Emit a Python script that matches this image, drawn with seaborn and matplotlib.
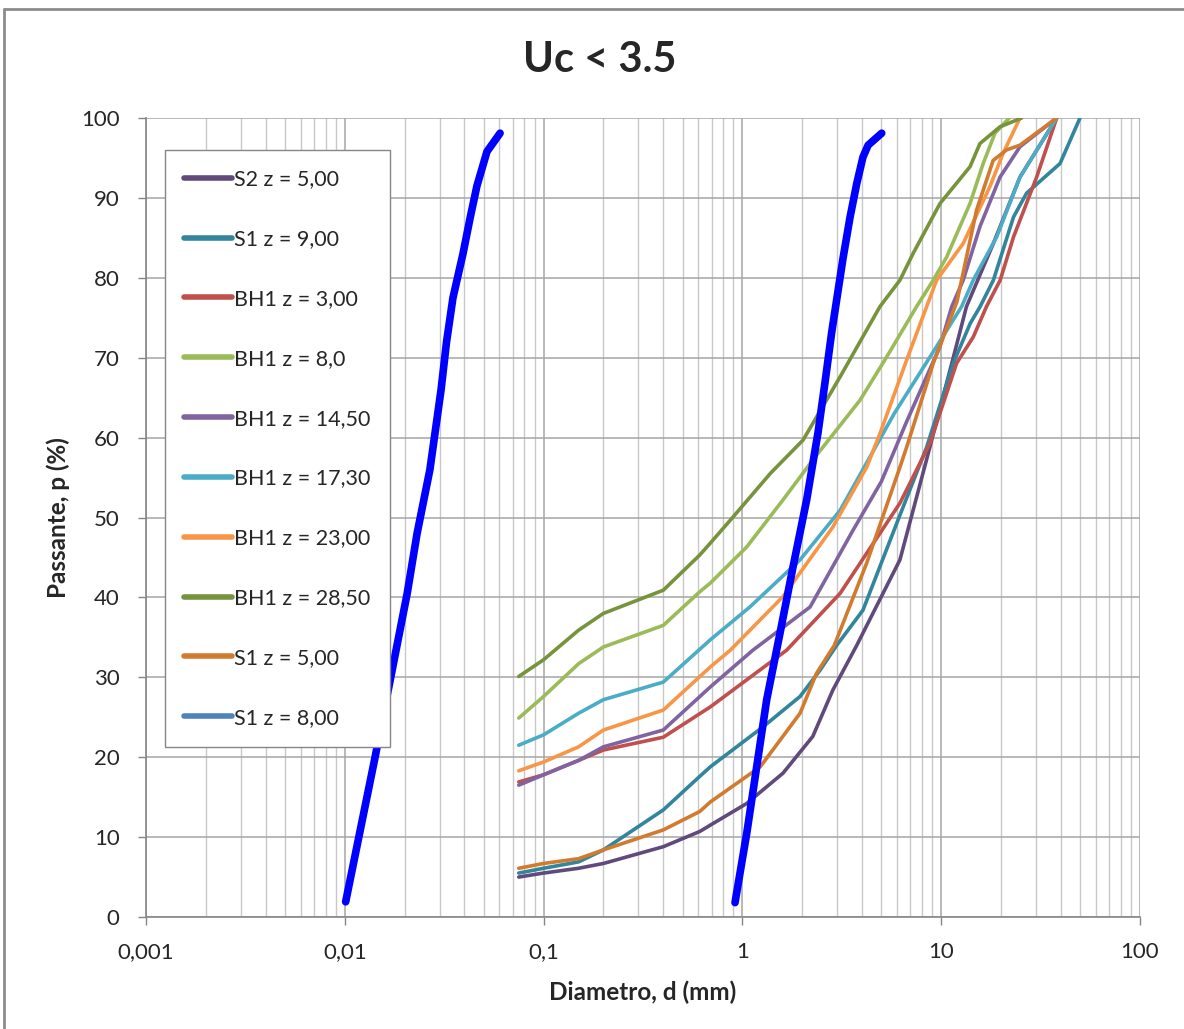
import matplotlib
matplotlib.use("Agg")
import matplotlib.pyplot as plt
import numpy as np
import pandas as pd
import seaborn as sns
from matplotlib.ticker import FixedLocator, FixedFormatter, LogLocator, NullFormatter
from matplotlib.lines import Line2D

# ---------------------------------------------------------------------------
# data (diameter d in mm, passing p in %)
# ---------------------------------------------------------------------------
S2_5_d = [0.075, 0.1, 0.15, 0.2, 0.4, 0.61, 0.69, 1.05, 1.6, 2.26, 2.85, 3.76, 6.2, 8.6, 11.5, 13.4, 18.3, 24.9, 38.1]
S2_5_p = [5.0, 5.5, 6.1, 6.7, 8.8, 10.7, 11.5, 14.2, 18.0, 22.6, 28.4, 34.0, 44.7, 58.0, 70.0, 76.4, 84.3, 92.6, 100]

S1_9_d = [0.075, 0.1, 0.15, 0.2, 0.4, 0.61, 0.69, 1.27, 1.95, 2.46, 2.98, 4.04, 6.2, 8.45, 11.5, 14.0, 15.7, 18.3, 23.1, 26.9, 39.6, 49.9]
S1_9_p = [5.5, 6.1, 6.9, 8.4, 13.4, 17.6, 18.8, 23.8, 27.6, 30.9, 34.0, 38.4, 50.3, 58.8, 69.3, 74.3, 76.4, 79.7, 87.6, 90.6, 94.3, 100]

BH1_3_d = [0.075, 0.1, 0.15, 0.2, 0.4, 0.69, 1.67, 3.1, 6.2, 8.78, 11.95, 14.5, 16.9, 19.8, 23.1, 30.2, 38.1]
BH1_3_p = [16.9, 17.8, 19.6, 20.9, 22.5, 26.3, 33.4, 40.5, 51.8, 59.3, 69.3, 72.6, 76.4, 79.7, 85.1, 92.6, 100]

BH1_8_d = [0.075, 0.1, 0.15, 0.2, 0.4, 0.61, 0.69, 1.05, 1.6, 2.26, 3.91, 5.32, 7.52, 9.12, 10.65, 13.96, 16.26, 18.64, 22.0]
BH1_8_p = [24.9, 27.6, 31.7, 33.8, 36.5, 40.7, 41.8, 46.3, 52.2, 57.2, 64.7, 70.1, 76.4, 79.7, 82.6, 89.3, 94.3, 98.1, 100]

BH1_145_d = [0.075, 0.1, 0.15, 0.2, 0.4, 0.69, 1.13, 2.19, 3.6, 5.0, 6.7, 9.86, 11.3, 12.9, 15.66, 19.76, 24.9, 38.1]
BH1_145_p = [16.5, 17.8, 19.6, 21.3, 23.4, 28.8, 33.4, 38.8, 48.4, 54.5, 62.0, 71.4, 76.4, 79.7, 86.4, 92.6, 96.4, 100]

BH1_173_d = [0.075, 0.1, 0.15, 0.2, 0.4, 0.69, 1.09, 1.95, 3.1, 5.8, 9.48, 12.67, 14.49, 19.0, 24.9, 38.1]
BH1_173_p = [21.5, 22.8, 25.5, 27.2, 29.4, 34.7, 38.8, 44.7, 50.9, 63.0, 71.4, 76.4, 79.7, 85.1, 92.6, 100]

BH1_23_d = [0.075, 0.1, 0.15, 0.2, 0.4, 0.69, 0.87, 1.6, 2.85, 4.22, 4.92, 6.7, 8.45, 9.48, 12.9, 17.57, 20.5, 24.9]
BH1_23_p = [18.3, 19.4, 21.3, 23.4, 25.9, 31.3, 33.4, 40.1, 48.8, 56.3, 60.5, 69.7, 76.4, 79.7, 84.3, 91.4, 95.6, 100]

BH1_285_d = [0.075, 0.1, 0.15, 0.2, 0.4, 0.61, 0.69, 0.9, 1.38, 2.02, 2.65, 3.1, 4.92, 6.2, 7.24, 9.86, 13.96, 15.66, 19.76, 25.4]
BH1_285_p = [30.1, 32.2, 35.9, 38.0, 40.9, 45.3, 46.8, 50.1, 55.5, 59.7, 64.7, 67.6, 76.4, 79.7, 83.1, 89.3, 93.9, 96.8, 98.9, 100]

S1_5_d = [0.075, 0.1, 0.15, 0.2, 0.4, 0.61, 0.69, 1.23, 1.95, 2.36, 2.9, 4.22, 6.2, 6.7, 9.12, 12.0, 15.07, 18.26, 21.3, 24.9, 38.1]
S1_5_p = [6.1, 6.7, 7.3, 8.4, 10.9, 13.2, 14.4, 18.8, 25.5, 30.5, 34.0, 44.3, 56.3, 58.8, 69.3, 77.0, 88.5, 94.7, 96.0, 96.6, 100]

S1_8_d = []
S1_8_p = []

# envelope (limit) curves, thick blue
low_lim_d = [0.0101, 0.0142, 0.0206, 0.0231, 0.0268, 0.0305, 0.0325, 0.035, 0.0393, 0.0427, 0.0462, 0.0519, 0.0604]
low_lim_p = [1.9, 20.0, 40.5, 48.0, 56.0, 66.0, 72.0, 77.5, 83.0, 87.5, 91.5, 95.8, 98.1]
high_lim_d = [0.918, 1.052, 1.18, 1.325, 1.545, 1.797, 2.105, 2.40, 2.60, 2.81, 3.21, 3.48, 3.76, 4.04, 4.29, 5.02]
high_lim_p = [1.8, 10.5, 18.8, 27.2, 35.5, 43.8, 52.2, 60.6, 66.8, 73.1, 82.5, 87.6, 91.8, 95.1, 96.6, 98.1]

labels = ["S2 z = 5,00", "S1 z = 9,00", "BH1 z = 3,00", "BH1 z = 8,0", "BH1 z = 14,50",
          "BH1 z = 17,30", "BH1 z = 23,00", "BH1 z = 28,50", "S1 z = 5,00", "S1 z = 8,00"]
colors = ["#604A7B", "#31859C", "#C0504D", "#9BBB59", "#8064A2",
          "#4BACC6", "#F79646", "#77933C", "#D27B2F", "#4F81BD"]
series = [(S2_5_d, S2_5_p), (S1_9_d, S1_9_p), (BH1_3_d, BH1_3_p), (BH1_8_d, BH1_8_p),
          (BH1_145_d, BH1_145_p), (BH1_173_d, BH1_173_p), (BH1_23_d, BH1_23_p),
          (BH1_285_d, BH1_285_p), (S1_5_d, S1_5_p), (S1_8_d, S1_8_p)]

xticks = [0.001, 0.01, 0.1, 1, 10, 100]
xtick_labels = ["0,001", "0,01", "0,1", "1", "10", "100"]
yticks = list(range(0, 101, 10))

# ---------------------------------------------------------------------------
sns.set_style("white")
plt.rcParams["font.family"] = ["Lato", "DejaVu Sans"]

fig = plt.figure(figsize=(11.84, 10.29), dpi=100)
ax = fig.add_axes([146 / 1184, 1 - 917 / 1029, (1140 - 146) / 1184, (917 - 118) / 1029])

for (d, p), lab, col in zip(series, labels, colors):
    if len(d) == 0:
        ax.plot([], [], color=col, lw=2.6, label=lab)
        continue
    df = pd.DataFrame({"d": d, "p": p})
    sns.lineplot(data=df, x="d", y="p", color=col, lw=2.6, label=lab, ax=ax,
                 sort=False, estimator=None)

for d, p in [(low_lim_d, low_lim_p), (high_lim_d, high_lim_p)]:
    df = pd.DataFrame({"d": d, "p": p})
    sns.lineplot(data=df, x="d", y="p", color="#0000FF", lw=5.5, ax=ax,
                 sort=False, estimator=None, legend=False, zorder=4,
                 solid_capstyle="round")

ax.set_xscale("log")
ax.set_xlim(0.001, 100)
ax.set_ylim(0, 100)
ax.xaxis.set_major_locator(FixedLocator(xticks))
ax.xaxis.set_major_formatter(FixedFormatter(xtick_labels))
ax.xaxis.set_minor_locator(LogLocator(base=10, subs=np.arange(2, 10), numticks=20))
ax.xaxis.set_minor_formatter(NullFormatter())
ax.set_yticks(yticks)

ax.grid(which="major", axis="both", color="#A6A6A6", lw=1.1)
ax.grid(which="minor", axis="x", color="#C8C8C8", lw=1.0)
ax.set_axisbelow(True)
for s in ["top", "right"]:
    ax.spines[s].set_visible(False)
for s in ["left", "bottom"]:
    ax.spines[s].set_color("#868686")
    ax.spines[s].set_linewidth(1.2)

ax.tick_params(axis="x", which="major", direction="out", length=6, width=1, color="#868686",
               labelsize=16, pad=12, bottom=True)
ax.tick_params(axis="x", which="minor", length=0)
ax.tick_params(axis="y", which="major", direction="out", length=6, width=1, color="#868686",
               labelsize=16, pad=13, left=True)

ax.set_xlabel("Diametro, d (mm)", fontsize=17.5, fontweight="bold", labelpad=13)
ax.set_ylabel("Passante, p (%)", fontsize=17.5, fontweight="bold", labelpad=8)

fig.text(600 / 1184, 1 - 60 / 1029, "Uc < 3.5", ha="center", va="center",
         fontsize=30, fontweight="bold")

leg = ax.legend(loc="upper left", bbox_to_anchor=((165 - 146) / 994, (917 - 150) / 799),
                fontsize=15.5, frameon=True, fancybox=False, edgecolor="#868686",
                framealpha=1, facecolor="white",
                labelspacing=1.85, handlelength=2.2, handletextpad=0.1,
                borderpad=0.9, borderaxespad=0)
leg.get_frame().set_linewidth(1.0)
for h in leg.get_lines():
    h.set_linewidth(4)

# outer chart border
fig.add_artist(Line2D([4 / 1184, 1.0], [1 - 9 / 1029, 1 - 9 / 1029], color="#8C8C8C", lw=2,
                      transform=fig.transFigure))
fig.add_artist(Line2D([4 / 1184, 4 / 1184], [0, 1 - 9 / 1029], color="#8C8C8C", lw=2,
                      transform=fig.transFigure))

fig.savefig("out.png", dpi=100)
